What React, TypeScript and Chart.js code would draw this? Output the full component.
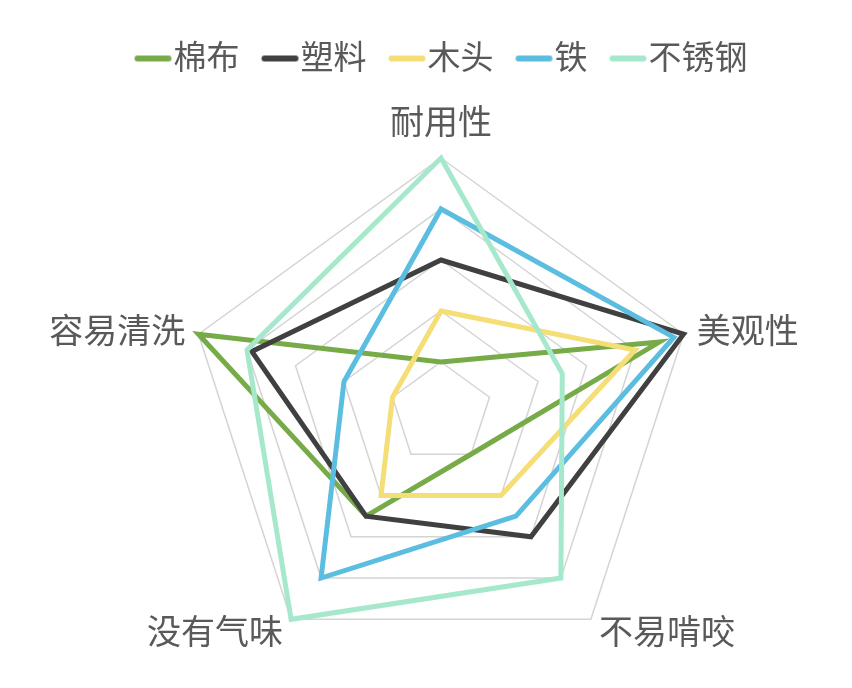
import React, { useEffect, useRef } from 'react';
import { Chart, registerables } from 'chart.js';

Chart.register(...registerables);

// Datos del gráfico
const categories = ['耐用性', '美观性', '不易啃咬', '没有气味', '容易清洗'];
const seriesNames = ['棉布', '塑料', '木头', '铁', '不锈钢'];
const cottonValues = [2, 9, 2, 5, 10];
const plasticValues = [6, 10, 6, 5, 7.8];
const woodValues = [4, 8, 4, 4, 2];
const ironValues = [8, 9.6, 5, 8, 4];
const steelValues = [10, 5, 8, 10, 8];
const scaleMin = 0;
const scaleMax = 10;
const scaleStep = 2;

// Estilos
const seriesColors = ['#77AB48', '#404040', '#F4DE75', '#5BBDE0', '#A6E8CB'];
const FONT = "'Noto Sans CJK SC', 'Microsoft YaHei', sans-serif";
const TEXT_COLOR = '#595959';
const LEGEND_FONT_SIZE = 33;
const LABEL_FONT_SIZE = 34;

// legend marker: a rounded bar drawn on a small canvas, wider than the legend box
// so the bar sits right against the label text
const makeLegendMarker = (color: string) => {
  const c = document.createElement('canvas');
  c.width = 76;
  c.height = 12;
  const g = c.getContext('2d');
  if (g) {
    g.strokeStyle = color;
    g.lineWidth = 6;
    g.lineCap = 'round';
    g.beginPath();
    g.moveTo(29.75, 8);
    g.lineTo(60.75, 8);
    g.stroke();
  }
  return c;
};

// extra room between legend and the radar
const legendSpacer = {
  id: 'legendSpacer',
  beforeInit(chart: any) {
    const legend = chart.legend;
    if (!legend) return;
    const fit = legend.fit;
    legend.fit = function () {
      fit.call(this);
      this.height += 75;
    };
  },
};

// category labels placed next to each outer vertex
const outerLabels = {
  id: 'outerLabels',
  afterDraw(chart: any) {
    const scale = chart.scales.r;
    const ctx = chart.ctx as CanvasRenderingContext2D;
    const labels = chart.data.labels as string[];
    ctx.save();
    ctx.font = `${LABEL_FONT_SIZE}px ${FONT}`;
    ctx.fillStyle = TEXT_COLOR;
    ctx.textBaseline = 'middle';
    labels.forEach((label, i) => {
      const base = scale.getPointPosition(i, scale.drawingArea);
      const dx = base.x - scale.xCenter;
      let align: CanvasTextAlign = 'center';
      let extra = 14;
      if (Math.abs(dx) < 1) {
        extra = 37;
      } else {
        align = dx > 0 ? 'left' : 'right';
      }
      const p = scale.getPointPosition(i, scale.drawingArea + extra);
      ctx.textAlign = align;
      ctx.fillText(label, p.x, p.y);
    });
    ctx.restore();
  },
};

const RadarChart: React.FC = () => {
  const canvasRef = useRef<HTMLCanvasElement>(null);
  const chartRef = useRef<Chart | null>(null);

  useEffect(() => {
    if (!canvasRef.current) return;
    const ctx = canvasRef.current.getContext('2d');
    if (!ctx) return;

    const values = [cottonValues, plasticValues, woodValues, ironValues, steelValues];

    chartRef.current = new Chart(ctx, {
      type: 'radar',
      data: {
        labels: categories,
        datasets: seriesNames.map((name, i) => ({
          label: name,
          data: values[i],
          borderColor: seriesColors[i],
          backgroundColor: 'transparent',
          borderWidth: 5,
          borderJoinStyle: 'miter' as const,
          fill: false,
          pointRadius: 0,
          pointHoverRadius: 0,
          pointStyle: makeLegendMarker(seriesColors[i]),
          order: seriesNames.length - 1 - i,
        })),
      },
      options: {
        responsive: true,
        maintainAspectRatio: false,
        animation: false,
        layout: { padding: { top: 10, bottom: 12, left: 0, right: 0 } },
        elements: { line: { tension: 0 } },
        scales: {
          r: {
            min: scaleMin,
            max: scaleMax,
            ticks: { display: false, stepSize: scaleStep },
            grid: { color: '#D4D4D4', lineWidth: 1.5 },
            angleLines: { display: false },
            pointLabels: { display: false },
          },
        },
        plugins: {
          legend: {
            position: 'top',
            labels: {
              usePointStyle: true,
              pointStyleWidth: 22.5,
              padding: 22,
              color: TEXT_COLOR,
              font: { size: LEGEND_FONT_SIZE, family: FONT },
              sort: (a: any, b: any) => a.datasetIndex - b.datasetIndex,
            },
          },
          tooltip: { enabled: false },
        },
      },
      plugins: [legendSpacer, outerLabels],
    });

    return () => {
      if (chartRef.current) {
        chartRef.current.destroy();
        chartRef.current = null;
      }
    };
  }, []);

  return (
    <div style={{ position: 'relative', marginLeft: 30, width: 806, height: 672 }}>
      <canvas ref={canvasRef}></canvas>
    </div>
  );
};

const App: React.FC = () => {
  return <RadarChart />;
};

export default App;
